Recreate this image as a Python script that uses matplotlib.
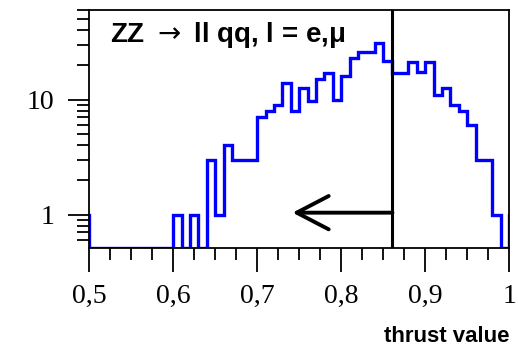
import numpy as np
import matplotlib
matplotlib.use("Agg")
import matplotlib.pyplot as plt
from matplotlib.ticker import FixedLocator, MultipleLocator, LogLocator, NullFormatter

# ---- data ----
bin_lo = 0.49          # includes one underflow and one overflow bin (clipped by axis range)
bin_width = 0.01
counts = [1,                                   # underflow (0.49-0.50)
          0, 0, 0, 0, 0, 0, 0, 0, 0, 0,        # 0.50-0.59
          1, 0, 1, 0, 3, 1, 4, 3, 3, 3,        # 0.60-0.69
          7, 8, 9, 14, 8, 12.6, 9.8, 15, 17, 10,   # 0.70-0.79
          16, 23, 26, 26, 31, 21.5, 17, 17, 21, 17.5,  # 0.80-0.89
          21, 11, 12.5, 9, 8, 6, 3, 3, 1, 0,   # 0.90-0.99
          1]                                   # overflow (1.00-1.01)
cut_value = 0.861
arrow_tip = 0.742
arrow_level = 1.04
x_ticks = [0.5, 0.6, 0.7, 0.8, 0.9, 1.0]
x_ticklabels = ["0,5", "0,6", "0,7", "0,8", "0,9", "1"]
y_ticks = [1, 10]
y_ticklabels = ["1", "10"]
title = "ZZ $\\rightarrow$ ll qq, l = e,\u03bc"
xlabel = "thrust value"

ymin, ymax = 0.51, 60.0

edges = bin_lo + bin_width * np.arange(len(counts) + 1)
vals = np.array(counts, dtype=float)
vals = np.where(vals > 0, vals, ymin)

fig = plt.figure(figsize=(5.18, 3.5), dpi=100)
ax = fig.add_axes([0.1724, 0.2906, 0.8106, 0.6808])

ax.stairs(vals, edges, baseline=None, color="#0000ff", lw=2.4)
ax.set_yscale("log")
ax.set_xlim(0.5, 1.0)
ax.set_ylim(ymin, ymax)

ax.axvline(cut_value, color="black", lw=2.2)
ax.annotate("", xy=(arrow_tip, arrow_level), xytext=(cut_value, arrow_level),
            arrowprops=dict(arrowstyle="->,head_length=1.15,head_width=0.6",
                            mutation_scale=20, lw=2.8, color="black",
                            shrinkA=0, shrinkB=0))

for s in ax.spines.values():
    s.set_linewidth(1.3)

serif = ["Liberation Serif", "DejaVu Serif"]
ax.xaxis.set_major_locator(FixedLocator(x_ticks))
ax.set_xticklabels(x_ticklabels, family=serif, fontsize=20)
ax.xaxis.set_minor_locator(MultipleLocator(0.025))
ax.yaxis.set_major_locator(FixedLocator(y_ticks))
ax.set_yticklabels(y_ticklabels, family=serif, fontsize=20)
ax.yaxis.set_minor_locator(LogLocator(base=10, subs=np.arange(2, 10)))
ax.yaxis.set_minor_formatter(NullFormatter())

ax.tick_params(axis="x", which="major", direction="out", length=17, width=1.3, pad=9)
ax.tick_params(axis="x", which="minor", direction="out", length=8.6, width=1.3)
ax.tick_params(axis="y", which="major", direction="out", length=15, width=1.3, pad=10)
ax.tick_params(axis="y", which="minor", direction="out", length=8.6, width=1.3)

ax.text(0.049, 0.866, title, transform=ax.transAxes, ha="left", va="baseline",
        fontsize=20, fontweight="bold", family=["Liberation Sans", "DejaVu Sans"])

fig.text(509 / 518, 1 - 337 / 350, xlabel, ha="right", va="center",
         fontsize=16, fontweight="bold", family=["Liberation Sans", "DejaVu Sans"])

fig.savefig("out.png", dpi=100)
